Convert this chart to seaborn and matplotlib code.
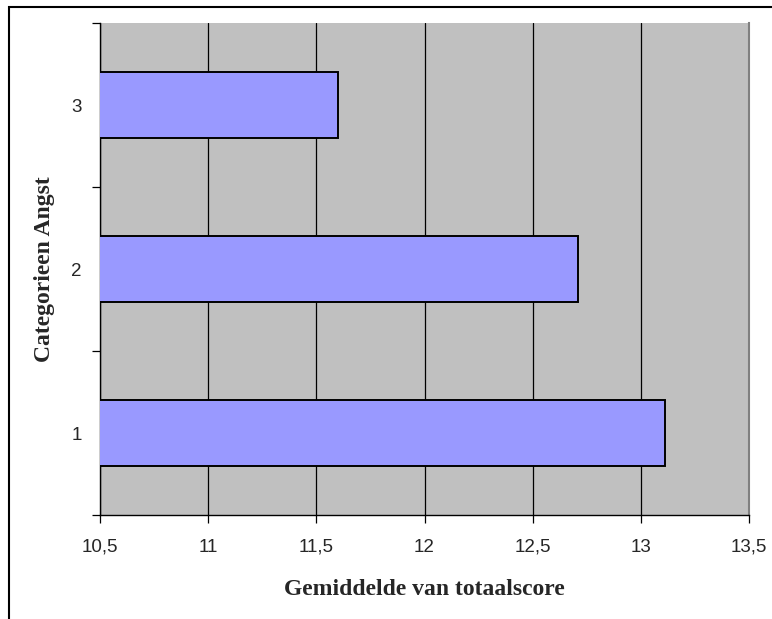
import matplotlib
matplotlib.use("Agg")
import matplotlib.pyplot as plt
import seaborn as sns
import pandas as pd
from matplotlib.patches import Rectangle

# Mean total score per anxiety category
categories = ["3", "2", "1"]
mean_scores = [11.60, 12.71, 13.11]
x_ticks = [10.5, 11.0, 11.5, 12.0, 12.5, 13.0, 13.5]
x_tick_labels = ["10,5", "11", "11,5", "12", "12,5", "13", "13,5"]

df = pd.DataFrame({"categorie": categories, "score": mean_scores})

sns.set_theme(style="white")
plt.rcParams["font.family"] = ["Liberation Sans", "DejaVu Sans"]

fig = plt.figure(figsize=(7.72, 6.19), dpi=100)
ax = fig.add_axes([100 / 772, 1 - 515 / 619, 649 / 772, 492 / 619])
ax.set_facecolor("#C0C0C0")

sns.barplot(data=df, x="score", y="categorie", order=categories, orient="h",
            color="#9999FF", saturation=1, width=0.40,
            edgecolor="black", linewidth=1.4, ax=ax, zorder=3)

ax.set_xlim(10.5, 13.5)
ax.set_ylim(2.5, -0.5)
ax.set_xticks(x_ticks)
ax.set_xticklabels(x_tick_labels)
ax.grid(axis="x", color="black", linewidth=0.9, zorder=0)
ax.set_axisbelow(True)

# category labels at band centres, tick marks at band boundaries
ax.set_yticks([-0.5, 0.5, 1.5, 2.5])
ax.set_yticklabels([])
ax.set_yticks([0, 1, 2], minor=True)
ax.set_yticklabels(categories, minor=True)
ax.tick_params(axis="y", which="major", direction="out", length=6, width=0.9,
               color="black", left=True)
ax.tick_params(axis="y", which="minor", length=0, pad=13, labelsize=13.5)
ax.tick_params(axis="x", direction="out", length=6, width=0.9, color="black",
               bottom=True, pad=11, labelsize=13.5)

for side in ["left", "bottom"]:
    ax.spines[side].set_color("black")
    ax.spines[side].set_linewidth(1.0)
ax.spines["top"].set_visible(False)
ax.spines["right"].set_color("#808080")
ax.spines["right"].set_linewidth(1.5)

label_font = dict(family=["Liberation Serif", "DejaVu Serif"], weight="bold", size=17)
ax.set_xlabel("Gemiddelde van totaalscore", labelpad=17, **label_font)
ax.set_ylabel("Categorieen Angst", labelpad=12, **label_font)

# outer chart frame
fig.patches.append(Rectangle((9 / 772, -0.1), 1.2, 1 - 7 / 619 + 0.1,
                             transform=fig.transFigure, fill=False,
                             edgecolor="black", linewidth=1.5))

fig.savefig("out.png", dpi=100)
